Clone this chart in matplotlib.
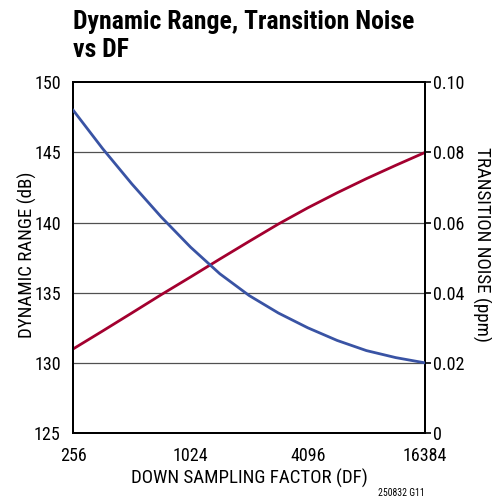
import matplotlib
matplotlib.use("Agg")
import matplotlib.pyplot as plt
from matplotlib import font_manager

names = {f.name for f in font_manager.fontManager.ttflist}
cands = ['Roboto Condensed', 'IBM Plex Sans Condensed', 'Archivo Narrow', 'Liberation Sans']
fam = [c for c in cands if c in names][:1] + ['DejaVu Sans']
plt.rcParams['font.family'] = fam

# Data
df = [256, 362, 512, 724, 1024, 1448, 2048, 2896, 4096, 5793, 8192, 11585, 16384]
dynamic_range_db = [131.0, 132.27, 133.56, 134.86, 136.12, 137.4, 138.66, 139.9,
                    141.05, 142.12, 143.13, 144.08, 145.0]
transition_noise_ppm = [0.0920, 0.0811, 0.0710, 0.0616, 0.0530, 0.0454, 0.0392,
                        0.0342, 0.0300, 0.0264, 0.0235, 0.0215, 0.0200]
x_ticks = [256, 1024, 4096, 16384]
x_tick_labels = ['256', '1024', '4096', '16384']
left_ticks = [125, 130, 135, 140, 145, 150]
right_ticks = [0, 0.02, 0.04, 0.06, 0.08, 0.10]
right_tick_labels = ['0', '0.02', '0.04', '0.06', '0.08', '0.10']

W, H = 492, 504
fig = plt.figure(figsize=(W / 100, H / 100), dpi=100)
ax = fig.add_axes([73.3 / W, 1 - 433 / H, (425 - 73.3) / W, (433 - 82.3) / H])
ax2 = ax.twinx()

red = '#A3002F'
blue = '#3953A4'
grid_c = '#505050'

ax.set_xscale('log', base=2)
ax.set_xlim(256, 16384)
ax.set_ylim(125, 150)
ax2.set_ylim(0, 0.10)

for t in left_ticks[1:-1]:
    ax.axhline(t, color=grid_c, lw=0.9, zorder=1)

ax.plot(df, dynamic_range_db, color=red, lw=2.0, zorder=3, solid_joinstyle='round')
ax2.plot(df, transition_noise_ppm, color=blue, lw=2.0, zorder=3, solid_joinstyle='round')

ax.set_xticks(x_ticks)
ax.set_xticklabels(x_tick_labels)
ax.xaxis.set_minor_locator(matplotlib.ticker.NullLocator())
ax.set_yticks(left_ticks)
ax2.set_yticks(right_ticks)
ax2.set_yticklabels(right_tick_labels)

fs = 13
lfs = 13.6
ax.tick_params(axis='x', length=0, pad=10, labelsize=fs)
ax.tick_params(axis='y', length=0, pad=9, labelsize=fs)
ax2.tick_params(axis='y', length=4, width=1.2, direction='out', pad=1.5, labelsize=fs, color='black')

for a in (ax, ax2):
    for s in a.spines.values():
        s.set_linewidth(1.4)
        s.set_color('black')

fig.text(249 / W, 1 - 478 / H, 'DOWN SAMPLING FACTOR (DF)', fontsize=lfs, ha='center', va='center')
fig.text(27 / W, 1 - 255 / H, 'DYNAMIC RANGE (dB)', fontsize=lfs, ha='center', va='center', rotation=90)
fig.text(482 / W, 1 - 244 / H, 'TRANSITION NOISE (ppm)', fontsize=lfs, ha='center', va='center', rotation=270)

fig.text(73 / W, 1 - 29.3 / H, 'Dynamic Range, Transition Noise', fontsize=18.5,
         fontweight='bold', ha='left', va='baseline')
fig.text(73 / W, 1 - 57.3 / H, 'vs DF', fontsize=18.5,
         fontweight='bold', ha='left', va='baseline')
fig.text(425 / W, 1 - 496 / H, '250832 G11', fontsize=7, ha='right', va='baseline')

fig.savefig('out.png', dpi=100)
